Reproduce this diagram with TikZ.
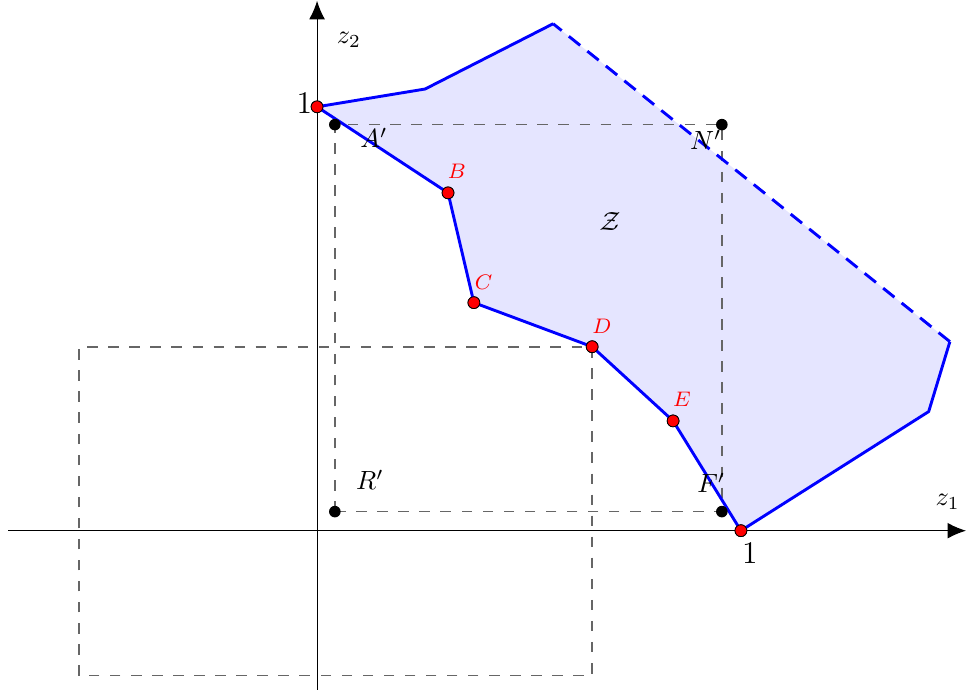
\documentclass[tikz,border=0pt]{standalone}
\usetikzlibrary{arrows.meta}
\begin{document}
\begin{tikzpicture}[x=5.66cm,y=5.66cm,
  bnd/.style={blue,line width=1.1pt},
  gdash/.style={black!60,line width=0.6pt,dash pattern=on 4pt off 4pt},
  bdot/.style={circle,fill=black,inner sep=0pt,minimum size=4.4pt},
  rdot/.style={circle,fill=red,draw=black,line width=0.3pt,inner sep=0pt,minimum size=4.5pt},
  rlab/.style={red,font=\footnotesize}]
\useasboundingbox (-0.748,-0.375) rectangle (1.531,1.252);
% fill
\fill[blue!10] (0,1) -- (0.255,1.042) -- (0.557,1.196) -- (1.493,0.446) -- (1.443,0.281) -- (1,0) -- (0.840,0.259) -- (0.649,0.434) -- (0.370,0.538) -- (0.309,0.797) -- cycle;
% dashed rectangles
\draw[gdash] (-0.561,-0.342) rectangle (0.649,0.434);
\draw[gdash] (0.042,0.045) rectangle (0.955,0.958);
% axes
\coordinate (xs) at (-0.729,0);
\coordinate (xe) at (1.531,0);
\coordinate (ys) at (0,-0.375);
\coordinate (ye) at (0,1.250);
\draw[-{Latex[length=7pt,width=6pt]},line width=0.4pt] (xs) -- (xe);
\draw[-{Latex[length=7pt,width=6pt]},line width=0.4pt] (ys) -- (ye);
\node (z1) at (1.488,0.068) {$z_1$};
\node (z2) at (0.075,1.158) {$z_2$};
% boundary
\coordinate (P2) at (0.255,1.042);
\coordinate (P3) at (0.557,1.196);
\coordinate (P4) at (1.493,0.446);
\coordinate (P5) at (1.443,0.281);
\node[rdot] (P1) at (0,1) {};
\node[rdot] (B) at (0.309,0.797) {};
\node[rdot] (C) at (0.370,0.538) {};
\node[rdot] (D) at (0.649,0.434) {};
\node[rdot] (E) at (0.840,0.259) {};
\node[rdot] (P0) at (1,0) {};
\draw[bnd,line join=round] (P0.center) -- (P5) -- (P4);
\draw[bnd,dash pattern=on 5.5pt off 3.5pt] (P4) -- (P3);
\draw[bnd,line join=round] (P3) -- (P2) -- (P1.center) -- (B.center) -- (C.center) -- (D.center) -- (E.center) -- (P0.center);
\foreach \n in {P1,B,C,D,E,P0} \node[rdot] at (\n) {};
% black dots
\node[bdot] (A) at (0.042,0.958) {};
\node[bdot] (N) at (0.955,0.958) {};
\node[bdot] (R) at (0.042,0.045) {};
\node[bdot] (F) at (0.955,0.045) {};
\node (Al) at (0.134,0.927) {$A'$};
\node (Nl) at (0.917,0.922) {$N'$};
\node (Rl) at (0.125,0.120) {$R'$};
\node (Fl) at (0.930,0.113) {$F'$};
% labels
\node[rlab] (Bl) at (0.330,0.847) {$B$};
\node[rlab] (Cl) at (0.393,0.585) {$C$};
\node[rlab] (Dl) at (0.672,0.483) {$D$};
\node[rlab] (El) at (0.861,0.309) {$E$};
\node (Zl) at (0.691,0.729) {$\mathcal{Z}$};
\node[font=\large] (one1) at (-0.030,1.008) {1};
\node[font=\large] (one2) at (1.021,-0.052) {1};
\end{tikzpicture}
\end{document}
